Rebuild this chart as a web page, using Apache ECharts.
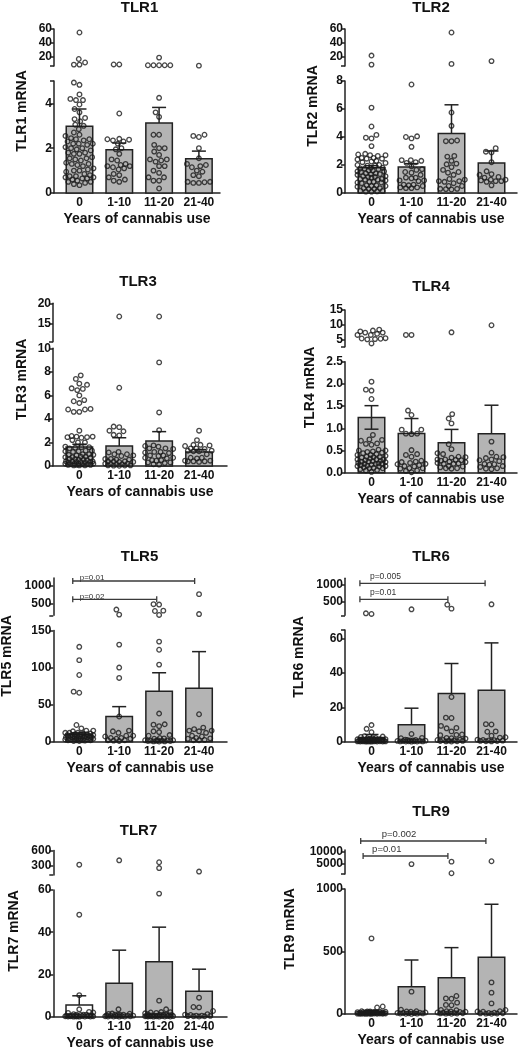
<!DOCTYPE html>
<html><head><meta charset="utf-8">
<script src="https://cdn.jsdelivr.net/npm/echarts@6/dist/echarts.min.js"></script>
<style>html,body{margin:0;padding:0;background:#fff}#c{width:518px;height:1050px}</style>
</head><body><div id="c"></div><script>
const categories = ['0', '1-10', '11-20', '21-40'];
const xAxisTitle = 'Years of cannabis use';

// ---- TLR1 ----
const t1g0 = [55, 17, 12, 9, 9, 4.93, 4.83, 4.4, 4.2, 4.15, 4.15, 3.95, 3.75, 3.6, 3.35, 3.3, 3.2, 3.05, 3.0, 2.85, 2.7, 2.6, 2.55, 2.45, 2.4, 2.4, 2.35, 2.3, 2.2, 2.2, 2.2, 2.15, 2.05, 2.0, 2.0, 1.95, 1.9, 1.8, 1.8, 1.75, 1.75, 1.6, 1.55, 1.55, 1.5, 1.45, 1.35, 1.3, 1.3, 1.25, 1.2, 1.1, 1.05, 1.0, 1.0, 0.95, 0.85, 0.8, 0.75, 0.75, 0.7, 0.7, 0.65, 0.65, 0.6, 0.55, 0.5, 0.5, 0.45, 0.4, 0.35];
const t1g1 = [9.2, 9.2, 3.55, 2.42, 2.4, 2.38, 2.35, 2.3, 2.2, 2.0, 1.95, 1.75, 1.5, 1.45, 1.3, 1.25, 1.2, 1.2, 1.15, 1.1, 1.05, 0.85, 0.8, 0.7, 0.6, 0.55, 0.5];
const t1g2 = [19, 8.1, 8.1, 8.1, 8.1, 8.1, 4.25, 3.6, 3.4, 2.6, 2.6, 2.15, 2.0, 2.0, 1.85, 1.7, 1.5, 1.5, 1.45, 1.4, 1.2, 1.2, 1.0, 0.9, 0.7, 0.7, 0.55, 0.55, 0.2];
const t1g3 = [7.5, 2.6, 2.55, 2.5, 2.0, 1.55, 1.3, 1.25, 1.2, 1.15, 1.0, 0.95, 0.8, 0.75, 0.5, 0.5, 0.48, 0.45, 0.45];
const t1Mean = [2.98, 1.93, 3.13, 1.53];
const t1Sem = [0.77, 0.3, 0.69, 0.34];
const t1UpperTicks = [20, 40, 60];
const t1LowerTicks = [0, 2, 4];

// ---- TLR2 ----
const t2g0 = [22, 9, 6.1, 4.75, 4.15, 3.95, 3.9, 3.35, 2.8, 2.75, 2.7, 2.7, 2.65, 2.5, 2.5, 2.45, 2.45, 2.4, 2.3, 2.25, 2.2, 2.15, 2.0, 2.0, 1.95, 1.95, 1.8, 1.8, 1.75, 1.75, 1.7, 1.6, 1.6, 1.55, 1.55, 1.5, 1.4, 1.4, 1.35, 1.35, 1.3, 1.2, 1.2, 1.15, 1.15, 1.1, 1.0, 1.0, 0.95, 0.95, 0.9, 0.8, 0.8, 0.75, 0.75, 0.7, 0.55, 0.55, 0.5, 0.5, 0.45, 0.35, 0.35, 0.3, 0.3, 0.15, 0.15, 0.12, 0.1, 0.1];
const t2g1 = [7.75, 4.05, 4.0, 3.9, 3.3, 2.35, 2.35, 2.3, 2.2, 2.15, 1.9, 1.7, 1.65, 1.5, 1.45, 1.3, 1.1, 1.1, 1.05, 0.9, 0.9, 0.85, 0.6, 0.6, 0.55, 0.5, 0.4, 0.4, 0.35, 0.35];
const t2g2 = [55, 10, 5.75, 4.8, 3.75, 3.7, 3.7, 2.65, 2.6, 2.3, 2.1, 2.05, 1.85, 1.65, 1.5, 1.45, 1.3, 1.0, 0.95, 0.85, 0.85, 0.8, 0.7, 0.5, 0.5, 0.3, 0.3, 0.28, 0.25];
const t2g3 = [14, 3.2, 2.95, 2.9, 2.2, 1.55, 1.35, 1.3, 1.15, 1.1, 0.95, 0.95, 0.9, 0.85, 0.85, 0.8, 0.55];
const t2Mean = [1.8, 1.85, 4.25, 2.15];
const t2Sem = [0.15, 0.25, 2.05, 0.85];
const t2UpperTicks = [20, 40, 60];
const t2LowerTicks = [0, 2, 4, 6, 8];

// ---- TLR3 ----
const t3g0 = [7.7, 7.4, 7.0, 6.9, 6.6, 6.55, 6.45, 6.0, 5.6, 5.5, 5.35, 4.85, 4.8, 4.8, 4.6, 4.6, 3.0, 2.55, 2.5, 2.5, 2.45, 2.45, 2.4, 2.2, 2.0, 2.0, 1.65, 1.6, 1.6, 1.55, 1.5, 1.3, 1.3, 1.25, 1.25, 1.2, 1.0, 1.0, 0.95, 0.95, 0.9, 0.8, 0.8, 0.75, 0.75, 0.7, 0.6, 0.6, 0.55, 0.55, 0.5, 0.4, 0.4, 0.4, 0.35, 0.35, 0.35, 0.3, 0.3, 0.2, 0.2, 0.2, 0.2, 0.15, 0.15, 0.15, 0.1, 0.1, 0.1, 0.05, 0.05, 0.05];
const t3g1 = [16.8, 6.65, 3.35, 3.3, 3.0, 2.95, 2.65, 2.6, 1.2, 1.15, 1.0, 1.0, 0.9, 0.85, 0.6, 0.6, 0.55, 0.55, 0.4, 0.4, 0.38, 0.35, 0.35, 0.2, 0.2, 0.18, 0.15, 0.15, 0.05, 0.05, 0.04, 0.03, 0.02];
const t3g2 = [16.8, 8.8, 4.55, 3.05, 1.75, 1.7, 1.65, 1.5, 1.5, 1.45, 1.2, 1.2, 1.15, 1.1, 0.9, 0.9, 0.85, 0.7, 0.7, 0.65, 0.5, 0.5, 0.45, 0.3, 0.3, 0.25, 0.15, 0.12];
const t3g3 = [3.0, 2.2, 1.8, 1.8, 1.75, 1.7, 1.5, 1.5, 1.45, 1.3, 1.3, 1.25, 1.25, 1.0, 0.7, 0.7, 0.65, 0.45, 0.45, 0.4, 0.4, 0.4, 0.35];
const t3Mean = [1.62, 1.7, 2.12, 1.2];
const t3Sem = [0.23, 0.7, 0.8, 0.2];
const t3UpperTicks = [15, 20];
const t3LowerTicks = [0, 2, 4, 6, 8, 10];

// ---- TLR4 ----
const t4g0 = [8.3, 8.0, 7.7, 7.3, 7.3, 6.9, 6.5, 6.5, 5.4, 5.3, 5.2, 5.1, 5.0, 3.6, 2.05, 1.87, 1.85, 1.66, 0.85, 0.75, 0.74, 0.72, 0.66, 0.65, 0.63, 0.52, 0.5, 0.5, 0.48, 0.47, 0.45, 0.44, 0.42, 0.4, 0.4, 0.38, 0.36, 0.35, 0.35, 0.34, 0.32, 0.3, 0.3, 0.3, 0.28, 0.27, 0.26, 0.25, 0.25, 0.24, 0.22, 0.21, 0.2, 0.2, 0.2, 0.18, 0.17, 0.16, 0.15, 0.15, 0.14, 0.12, 0.11, 0.1, 0.1, 0.08, 0.06, 0.05, 0.02];
const t4g1 = [6.5, 6.5, 1.4, 1.3, 0.97, 0.97, 0.88, 0.88, 0.87, 0.51, 0.42, 0.4, 0.36, 0.27, 0.25, 0.24, 0.22, 0.2, 0.19, 0.17, 0.15, 0.14, 0.1, 0.1, 0.09, 0.05, 0.04, 0.01];
const t4g2 = [7.4, 1.32, 1.22, 1.11, 0.64, 0.53, 0.44, 0.42, 0.36, 0.35, 0.34, 0.3, 0.3, 0.29, 0.28, 0.27, 0.25, 0.24, 0.22, 0.21, 0.2, 0.2, 0.15, 0.14, 0.12, 0.1, 0.1, 0.09];
const t4g3 = [9.8, 0.7, 0.45, 0.36, 0.35, 0.33, 0.3, 0.28, 0.26, 0.2, 0.19, 0.18, 0.15, 0.13, 0.1, 0.09, 0.08];
const t4Mean = [1.245, 0.885, 0.675, 0.88];
const t4Sem = [0.265, 0.335, 0.3, 0.64];
const t4UpperTicks = [5, 10, 15];
const t4LowerTicks = [0, 0.5, 1.0, 1.5, 2.0, 2.5];

// ---- TLR5 ----
const t5g0 = [128, 110, 90, 67.5, 66, 22.5, 18, 15, 15, 14, 12, 12, 12, 11, 11, 10, 10, 10, 9, 9, 9, 8, 8, 8, 8, 7, 7, 7, 6, 6, 6, 6, 5, 5, 5, 5, 4, 4, 4, 4, 3, 3, 3, 2, 2, 2, 2, 1.5, 1, 1];
const t5g1 = [340, 200, 131, 100, 86, 34, 15, 14, 12, 8, 8, 7, 5, 5, 4, 4, 2, 2, 1.5, 1];
const t5g2 = [490, 480, 310, 300, 190, 135, 124, 104, 38, 23.5, 23, 21, 14, 13, 9, 8, 5, 4.5, 4, 2, 2, 2, 1.8, 1.5, 1.5, 1.2, 1, 1, 0.5, 0.5, 0.3];
const t5g3 = [770, 215, 37, 19, 17, 15, 15, 14, 12, 8, 7, 5, 4.5, 4, 2.5, 2, 2];
const t5Mean = [10, 34, 68, 72];
const t5Sem = [2, 13.3, 25, 49.5];
const t5UpperTicks = [500, 1000];
const t5LowerTicks = [0, 50, 100, 150];
const t5Brackets = [
  { from: -0.163, to: 2.89, y: 1136, label: 'p=0.01' },
  { from: -0.163, to: 1.94, y: 626, label: 'p=0.02' }
];

// ---- TLR6 ----
const t6g0 = [150, 130, 9.7, 7.5, 5.5, 3.2, 3, 2.8, 2.2, 2, 2, 1.8, 1.5, 1.5, 1.4, 1.2, 1, 1, 1, 1, 0.9, 0.8, 0.8, 0.7, 0.6, 0.5, 0.5, 0.5, 0.5, 0.4, 0.4, 0.3, 0.3, 0.3, 0.2, 0.2, 0.2, 0.2, 0.1, 0.1, 0.1, 0.1, 0.05, 0.05];
const t6g1 = [270, 4.5, 2.2, 2, 1.2, 1, 1, 0.8, 0.7, 0.6, 0.5, 0.5, 0.4, 0.3, 0.3, 0.2, 0.2, 0.1, 0.1, 0.05];
const t6g2 = [410, 290, 26, 14, 13.8, 9.2, 8, 7.8, 6, 4.2, 4, 3.8, 2.2, 2, 1.8, 1.2, 1, 1, 0.8, 0.6, 0.5, 0.4, 0.3, 0.2, 0.1];
const t6g3 = [420, 10.2, 10, 6, 5.8, 3.5, 2.6, 2.4, 1.2, 1, 0.9, 0.8, 0.6, 0.5, 0.4, 0.3, 0.2];
const t6Mean = [2.5, 9.8, 28, 30];
const t6Sem = [1.7, 9.7, 17.5, 27.5];
const t6UpperTicks = [500, 1000];
const t6LowerTicks = [0, 20, 40, 60];
const t6Brackets = [
  { from: -0.29, to: 2.84, y: 1050, label: 'p=0.005' },
  { from: -0.29, to: 1.91, y: 570, label: 'p=0.01' }
];

// ---- TLR7 ----
const t7g0 = [320, 48.3, 10.2, 3.5, 2.3, 2, 1.8, 1.2, 1, 1, 0.9, 0.8, 0.6, 0.5, 0.5, 0.5, 0.4, 0.4, 0.3, 0.3, 0.3, 0.2, 0.2, 0.2, 0.1, 0.1, 0.1, 0.1, 0.05, 0.05];
const t7g1 = [410, 3.5, 1.5, 1.4, 1.3, 1, 1, 0.9, 0.8, 0.6, 0.5, 0.5, 0.4, 0.3, 0.3, 0.2, 0.2, 0.1, 0.1, 0.1, 0.05];
const t7g2 = [370, 252, 58.3, 7.6, 3.5, 2.2, 2.1, 2, 1.8, 1.6, 1.2, 1, 1, 0.9, 0.8, 0.7, 0.6, 0.5, 0.5, 0.4, 0.4, 0.3, 0.3, 0.3, 0.2, 0.2, 0.2, 0.1, 0.1, 0.1, 0.05, 0.05];
const t7g3 = [180, 9, 4.6, 4.4, 2.7, 1.2, 1, 0.8, 0.5, 0.5, 0.4, 0.3, 0.2, 0.2, 0.1];
const t7Mean = [5.5, 15.8, 26, 12];
const t7Sem = [4.4, 15.7, 16.4, 10.5];
const t7UpperTicks = [300, 600];
const t7LowerTicks = [0, 20, 40, 60];

// ---- TLR9 ----
const t9g0 = [605, 60, 52, 22, 20, 20, 18, 18, 16, 15, 14, 12, 12, 11, 10, 10, 10, 9, 8, 8, 7, 7, 6, 6, 5, 5, 5, 4, 4, 4, 3, 3, 3, 2, 2, 2, 1, 1];
const t9g1 = [5000, 179, 34, 22, 20, 18, 12, 10, 9, 8, 7, 6, 5, 4, 3, 2, 1];
const t9g2 = [6000, 1300, 144, 125, 122, 91, 73, 70, 32, 30, 22, 20, 18, 16, 12, 10, 9, 8, 6, 5, 4, 3, 2];
const t9g3 = [6150, 253, 171, 85, 32, 22, 20, 18, 10, 8, 6, 5, 4, 3, 2];
const t9Mean = [14, 219, 291, 455];
const t9Sem = [16, 213, 240, 423];
const t9UpperTicks = [5000, 10000];
const t9LowerTicks = [0, 500, 1000];
const t9Brackets = [
  { from: -0.27, to: 2.86, y: 14340, label: 'p=0.002' },
  { from: -0.21, to: 1.91, y: 8276, label: 'p=0.01' }
];

// ---- layout (pixels) ----
const R = { left: 345, width: 172, xMin: -0.6625, xMax: 3.6375 };
const panels = [
  { name: 'TLR1', groups: [t1g0, t1g1, t1g2, t1g3], mean: t1Mean, sem: t1Sem, uTicks: t1UpperTicks, lTicks: t1LowerTicks,
    upper: [7, 60], lower: [0, 5], col: { left: 54, width: 166, xMin: -0.64, xMax: 3.53 }, uTop: 29, uBot: 66, lTop: 81, lBot: 193,
    title: [139.5, 7.5], yName: [22, 111] },
  { name: 'TLR2', groups: [t2g0, t2g1, t2g2, t2g3], mean: t2Mean, sem: t2Sem, uTicks: t2UpperTicks, lTicks: t2LowerTicks,
    upper: [7, 60], lower: [0, 8], col: R, uTop: 29, uBot: 66, lTop: 81, lBot: 193,
    title: [431, 7.5], yName: [313, 106] },
  { name: 'TLR3', groups: [t3g0, t3g1, t3g2, t3g3], mean: t3Mean, sem: t3Sem, uTicks: t3UpperTicks, lTicks: t3LowerTicks,
    upper: [10.7, 20], lower: [0, 10], col: { left: 53, width: 174, xMin: -0.66, xMax: 3.70 }, uTop: 303.3, uBot: 341.7, lTop: 348.3, lBot: 466,
    title: [138, 282], yName: [22, 379.5] },
  { name: 'TLR4', groups: [t4g0, t4g1, t4g2, t4g3], mean: t4Mean, sem: t4Sem, uTicks: t4UpperTicks, lTicks: t4LowerTicks,
    upper: [2.5, 15], lower: [0, 2.5], col: R, uTop: 310, uBot: 346.7, lTop: 361.7, lBot: 472.7, lowerDecimals: 1, lowerWhisker: [0],
    title: [431, 287], yName: [310, 387.5] },
  { name: 'TLR5', groups: [t5g0, t5g1, t5g2, t5g3], mean: t5Mean, sem: t5Sem, uTicks: t5UpperTicks, lTicks: t5LowerTicks,
    upper: [180, 1220], lower: [0, 150], col: { left: 53.3, width: 173.7, xMin: -0.65, xMax: 3.70 }, uTop: 578, uBot: 615.3, lTop: 630.5, lBot: 741.7,
    title: [139.5, 557], yName: [7.5, 656], brackets: t5Brackets, bFont: 8, bDx: 7, bDy: 1 },
  { name: 'TLR6', groups: [t6g0, t6g1, t6g2, t6g3], mean: t6Mean, sem: t6Sem, uTicks: t6UpperTicks, lTicks: t6LowerTicks,
    upper: [90, 1200], lower: [0, 65], col: R, uTop: 578.3, uBot: 615.3, lTop: 630, lBot: 741.7,
    title: [431, 557], yName: [299, 657], brackets: t6Brackets, bFont: 8.5, bDx: 10, bDy: -2 },
  { name: 'TLR7', groups: [t7g0, t7g1, t7g2, t7g3], mean: t7Mean, sem: t7Sem, uTicks: t7UpperTicks, lTicks: t7LowerTicks,
    upper: [110, 610], lower: [0, 60], col: { left: 53.3, width: 173.7, xMin: -0.65, xMax: 3.70 }, uTop: 850.5, uBot: 875, lTop: 890, lBot: 1016.7,
    whiteBars: [0], title: [138.5, 830.5], yName: [14.5, 931] },
  { name: 'TLR9', groups: [t9g0, t9g1, t9g2, t9g3], mean: t9Mean, sem: t9Sem, uTicks: t9UpperTicks, lTicks: t9LowerTicks,
    upper: [1000, 10700], lower: [0, 1000], col: R, uTop: 850, uBot: 874, lTop: 889, lBot: 1014,
    title: [431, 812], yName: [290, 929], brackets: t9Brackets, bFont: 9.5, bDx: [21, 9], bDy: -2 }
];

const FONT = '"Liberation Sans", Arial, sans-serif';
const AX = '#222';

// simple beeswarm: horizontal offsets (px) so that circles don't overlap
function swarm(vals, yPix) {
  const D = 5.6, maxW = 14, step = 0.7;
  const order = vals.map((v, i) => i).sort((a, b) => vals[a] - vals[b]);
  const placed = [];
  const out = new Array(vals.length);
  for (const i of order) {
    const y = yPix(vals[i]);
    let chosen = null, bestScore = -1, bestOff = 0;
    const nMax = Math.floor(maxW / step);
    for (let k = 0; k <= 2 * nMax; k++) {
      const off = (k % 2 === 1 ? -1 : 1) * Math.ceil(k / 2) * step;
      let md = Infinity;
      for (const p of placed) {
        const dx = p.x - off, dy = p.y - y;
        const d = Math.sqrt(dx * dx + dy * dy);
        if (d < md) md = d;
      }
      if (md >= D) { chosen = off; break; }
      if (md > bestScore) { bestScore = md; bestOff = off; }
    }
    if (chosen === null) chosen = bestOff;
    placed.push({ x: chosen, y });
    out[i] = chosen;
  }
  return out;
}

const grids = [], xAxes = [], yAxes = [], series = [], graphics = [];

panels.forEach((p, pi) => {
  const c = p.col;
  const ui = 2 * pi, li = 2 * pi + 1;
  const pxPerX = c.width / (c.xMax - c.xMin);
  grids.push({ left: c.left, top: p.uTop, width: c.width, height: p.uBot - p.uTop, outerBoundsMode: 'none' });
  grids.push({ left: c.left, top: p.lTop, width: c.width, height: p.lBot - p.lTop, outerBoundsMode: 'none' });
  xAxes.push({ gridIndex: ui, type: 'value', min: c.xMin, max: c.xMax, show: false, axisLine: { onZero: false } });
  xAxes.push({ gridIndex: li, type: 'value', min: c.xMin, max: c.xMax, position: 'bottom',
    axisLine: { show: true, onZero: false, lineStyle: { color: AX, width: 1.5 } }, axisTick: { show: false }, splitLine: { show: false },
    axisLabel: { customValues: [0, 1, 2, 3], formatter: v => categories[Math.round(v)], fontSize: 12, fontWeight: 'bold', color: '#111', margin: 4, fontFamily: FONT },
    name: xAxisTitle, nameLocation: 'middle', nameGap: 19,
    nameTextStyle: { fontSize: 14, fontWeight: 'bold', color: '#111', fontFamily: FONT } });
  const fmtU = v => String(v);
  const fmtL = v => p.lowerDecimals ? v.toFixed(p.lowerDecimals) : String(v);
  const lowTickVals = p.lTicks.slice();
  if (lowTickVals[lowTickVals.length - 1] !== p.lower[1]) lowTickVals.push(p.lower[1]);
  yAxes.push({ gridIndex: ui, type: 'value', min: p.upper[0], max: p.upper[1], position: 'left',
    axisLine: { show: true, onZero: false, lineStyle: { color: AX, width: 1.5 } },
    axisTick: { show: true, length: 4, customValues: [p.upper[0]].concat(p.uTicks), lineStyle: { color: AX, width: 1.5 } },
    axisLabel: { customValues: p.uTicks, formatter: fmtU, fontSize: 12, fontWeight: 'bold', color: '#111', margin: 2, fontFamily: FONT },
    splitLine: { show: false } });
  yAxes.push({ gridIndex: li, type: 'value', min: p.lower[0], max: p.lower[1], position: 'left',
    axisLine: { show: true, onZero: false, lineStyle: { color: AX, width: 1.5 } },
    axisTick: { show: true, length: 4, customValues: lowTickVals, lineStyle: { color: AX, width: 1.5 } },
    axisLabel: { customValues: p.lTicks, formatter: fmtL, fontSize: 12, fontWeight: 'bold', color: '#111', margin: 2, fontFamily: FONT },
    splitLine: { show: false } });

  // bars + error bars
  const white = p.whiteBars || [];
  const lw = p.lowerWhisker || [];
  series.push({ type: 'custom', xAxisIndex: li, yAxisIndex: li, z: 1, clip: false, silent: true,
    data: p.mean.map((m, i) => [i, m, p.sem[i]]),
    renderItem: (params, api) => {
      const i = api.value(0), m = api.value(1), s = api.value(2);
      const p0 = api.coord([i, 0]), p1 = api.coord([i, m]), p2 = api.coord([i, m + s]);
      const bw = 26.5, cap = 7;
      const ch = [
        { type: 'rect', shape: { x: p0[0] - bw / 2, y: p1[1], width: bw, height: p0[1] - p1[1] },
          style: { fill: white.indexOf(i) >= 0 ? '#ffffff' : '#b4b4b4', stroke: AX, lineWidth: 1.5 } },
        { type: 'line', shape: { x1: p1[0], y1: p1[1], x2: p2[0], y2: p2[1] }, style: { stroke: AX, lineWidth: 1.5 } },
        { type: 'line', shape: { x1: p2[0] - cap, y1: p2[1], x2: p2[0] + cap, y2: p2[1] }, style: { stroke: AX, lineWidth: 1.5 } }
      ];
      if (lw.indexOf(i) >= 0) {
        const p3 = api.coord([i, m - s]);
        ch.push({ type: 'line', shape: { x1: p1[0], y1: p1[1], x2: p3[0], y2: p3[1] }, style: { stroke: AX, lineWidth: 1.5 } });
        ch.push({ type: 'line', shape: { x1: p3[0] - cap, y1: p3[1], x2: p3[0] + cap, y2: p3[1] }, style: { stroke: AX, lineWidth: 1.5 } });
      }
      return { type: 'group', children: ch };
    } });

  // points
  const upPts = [], lowPts = [];
  const yU = v => p.uBot - (v - p.upper[0]) / (p.upper[1] - p.upper[0]) * (p.uBot - p.uTop);
  const yL = v => p.lBot - (v - p.lower[0]) / (p.lower[1] - p.lower[0]) * (p.lBot - p.lTop);
  p.groups.forEach((vals, gi) => {
    const up = vals.filter(v => v > p.lower[1]);
    const lo = vals.filter(v => v <= p.lower[1]);
    const ou = swarm(up, yU), ol = swarm(lo, yL);
    up.forEach((v, k) => upPts.push([gi + ou[k] / pxPerX, v]));
    lo.forEach((v, k) => lowPts.push([gi + ol[k] / pxPerX, v]));
  });
  const pointStyle = { color: 'rgba(255,255,255,0)', borderColor: '#1a1a1a', borderWidth: 1.3 };
  series.push({ type: 'scatter', xAxisIndex: ui, yAxisIndex: ui, data: upPts, symbol: 'circle', symbolSize: 4.6, itemStyle: pointStyle, z: 3, clip: false, silent: true });
  series.push({ type: 'scatter', xAxisIndex: li, yAxisIndex: li, data: lowPts, symbol: 'circle', symbolSize: 4.6, itemStyle: pointStyle, z: 3, clip: false, silent: true });

  // significance brackets
  if (p.brackets) {
    series.push({ type: 'custom', xAxisIndex: ui, yAxisIndex: ui, z: 4, clip: false, silent: true,
      data: p.brackets.map((b, k) => [b.from, b.to, b.y, k]),
      renderItem: (params, api) => {
        const k = api.value(3);
        const a = api.coord([api.value(0), api.value(2)]), b = api.coord([api.value(1), api.value(2)]);
        const col = '#3a3a3a';
        const dx = Array.isArray(p.bDx) ? p.bDx[k] : p.bDx;
        return { type: 'group', children: [
          { type: 'line', shape: { x1: a[0], y1: a[1], x2: b[0], y2: b[1] }, style: { stroke: col, lineWidth: 1.3 } },
          { type: 'line', shape: { x1: a[0], y1: a[1] - 3, x2: a[0], y2: a[1] + 3 }, style: { stroke: col, lineWidth: 1.3 } },
          { type: 'line', shape: { x1: b[0], y1: b[1] - 3, x2: b[0], y2: b[1] + 3 }, style: { stroke: col, lineWidth: 1.3 } },
          { type: 'text', x: a[0] + dx, y: a[1] + p.bDy,
            style: { text: p.brackets[k].label, font: p.bFont + 'px ' + FONT, fill: '#333', align: 'left', verticalAlign: 'bottom' } }
        ] };
      } });
  }

  graphics.push({ type: 'text', x: p.title[0], y: p.title[1], silent: true,
    style: { text: p.name, font: 'bold 15px ' + FONT, fill: '#111', align: 'center', verticalAlign: 'middle' } });
  graphics.push({ type: 'text', x: p.yName[0], y: p.yName[1], rotation: Math.PI / 2, silent: true,
    style: { text: p.name + ' mRNA', font: 'bold 14px ' + FONT, fill: '#111', align: 'center', verticalAlign: 'middle' } });
});

const chart = echarts.init(document.getElementById('c'), null, { renderer: 'canvas' });
chart.setOption({
  animation: false,
  backgroundColor: '#ffffff',
  textStyle: { fontFamily: FONT },
  grid: grids, xAxis: xAxes, yAxis: yAxes, series: series, graphic: graphics
});
</script></body></html>
